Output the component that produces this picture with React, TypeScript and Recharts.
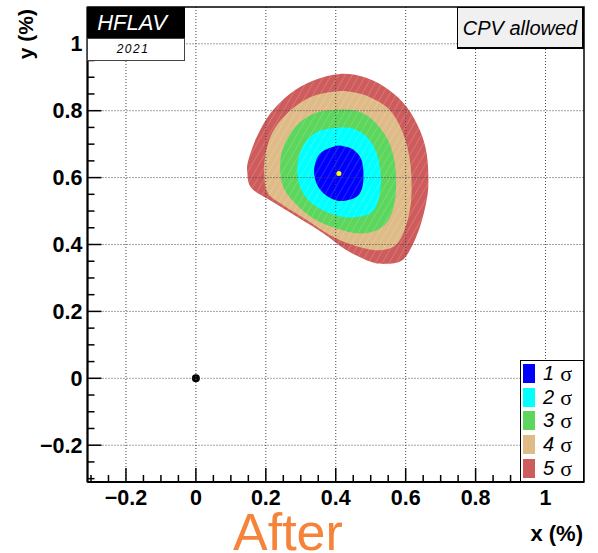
import React from 'react';
import { ScatterChart, Scatter, XAxis, YAxis, ReferenceLine, ReferenceArea } from 'recharts';

// Confidence contours in the (x, y) plane, values in %
const sigma5: [number, number][] = [
  [0.412, 0.91], [0.336, 0.89], [0.269, 0.851], [0.212, 0.791], [0.174, 0.721], [0.15, 0.652],
  [0.147, 0.615], [0.158, 0.57], [0.212, 0.532], [0.289, 0.483], [0.365, 0.433], [0.431, 0.383],
  [0.498, 0.349], [0.536, 0.342], [0.584, 0.349], [0.612, 0.383], [0.641, 0.453], [0.66, 0.532],
  [0.665, 0.592], [0.66, 0.672], [0.641, 0.741], [0.603, 0.811], [0.555, 0.86], [0.489, 0.898],
];
const sigma4: [number, number][] = [
  [0.403, 0.858], [0.327, 0.84], [0.26, 0.791], [0.217, 0.731], [0.198, 0.662], [0.196, 0.602],
  [0.205, 0.555], [0.241, 0.523], [0.317, 0.473], [0.384, 0.428], [0.45, 0.398], [0.517, 0.383],
  [0.565, 0.393], [0.593, 0.433], [0.612, 0.503], [0.617, 0.572], [0.612, 0.652], [0.593, 0.731],
  [0.555, 0.801], [0.498, 0.84], [0.45, 0.855],
];
const sigma3: [number, number][] = [
  [0.403, 0.803], [0.336, 0.791], [0.284, 0.751], [0.25, 0.691], [0.241, 0.632], [0.25, 0.572],
  [0.284, 0.523], [0.336, 0.478], [0.403, 0.448], [0.469, 0.433], [0.527, 0.448], [0.56, 0.493],
  [0.572, 0.562], [0.569, 0.642], [0.55, 0.711], [0.507, 0.771], [0.46, 0.799],
];
const sigma2: [number, number][] = [
  [0.403, 0.749], [0.346, 0.736], [0.307, 0.696], [0.29, 0.632], [0.298, 0.572], [0.331, 0.523],
  [0.384, 0.493], [0.441, 0.481], [0.498, 0.493], [0.522, 0.532], [0.529, 0.602], [0.517, 0.672],
  [0.489, 0.721], [0.45, 0.746],
];
const sigma1: [number, number][] = [
  [0.398, 0.694], [0.355, 0.672], [0.338, 0.622], [0.35, 0.572], [0.384, 0.539], [0.422, 0.53],
  [0.465, 0.547], [0.479, 0.592], [0.474, 0.652], [0.45, 0.684], [0.422, 0.694],
];
const bestFit: [number, number][] = [[0.409, 0.612]];
const noMixing: [number, number][] = [[0, 0]];

const legendLabels = ['1', '2', '3', '4', '5'];
const sigmaColors = ['#0000ff', '#00ffff', '#5cd65c', '#dfbb88', '#cf5c5c'];

const axisDomain: [number, number] = [-0.31, 1.11];
const tickValues = [
  -0.3, -0.25, -0.2, -0.15, -0.1, -0.05, 0, 0.05, 0.1, 0.15, 0.2, 0.25, 0.3, 0.35, 0.4, 0.45,
  0.5, 0.55, 0.6, 0.65, 0.7, 0.75, 0.8, 0.85, 0.9, 0.95, 1, 1.05, 1.1,
];
const majorTicks = [-0.2, 0, 0.2, 0.4, 0.6, 0.8, 1];
const majorLabels = ['\u22120.2', '0', '0.2', '0.4', '0.6', '0.8', '1'];

const FONT = '"Liberation Sans", Arial, Helvetica, sans-serif';
const LABEL_SIZE = 21.5;

const toPoints = (arr: [number, number][]) => arr.map(([x, y]) => ({ x, y }));

const majorIndex = (v: number) => majorTicks.findIndex((m) => Math.abs(m - v) < 1e-6);

const XTick = (props: any) => {
  const { x, y, payload } = props;
  const i = majorIndex(payload.value);
  return (
    <g>
      <line x1={x} x2={x} y1={y} y2={y - (i >= 0 ? 14 : 7)} stroke="#000" strokeWidth={1.5} />
      {i >= 0 && (
        <text x={x} y={y + 23} textAnchor="middle" fontFamily={FONT} fontWeight="bold" fontSize={LABEL_SIZE} fill="#000">
          {majorLabels[i]}
        </text>
      )}
    </g>
  );
};

const YTick = (props: any) => {
  const { x, y, payload } = props;
  const i = majorIndex(payload.value);
  return (
    <g>
      <line x1={x} x2={x + (i >= 0 ? 14 : 7)} y1={y} y2={y} stroke="#000" strokeWidth={1.5} />
      {i >= 0 && (
        <text x={x - 5} y={y + 7.5} textAnchor="end" fontFamily={FONT} fontWeight="bold" fontSize={LABEL_SIZE} fill="#000">
          {majorLabels[i]}
        </text>
      )}
    </g>
  );
};

// closed Catmull-Rom curve through the projected contour points
const smoothPath = (pts: { x: number; y: number }[]) => {
  const n = pts.length;
  if (!n) return '';
  let d = `M${pts[0].x},${pts[0].y}`;
  for (let i = 0; i < n; i++) {
    const p0 = pts[(i - 1 + n) % n];
    const p1 = pts[i];
    const p2 = pts[(i + 1) % n];
    const p3 = pts[(i + 2) % n];
    const c1x = p1.x + (p2.x - p0.x) / 6;
    const c1y = p1.y + (p2.y - p0.y) / 6;
    const c2x = p2.x - (p3.x - p1.x) / 6;
    const c2y = p2.y - (p3.y - p1.y) / 6;
    d += `C${c1x},${c1y} ${c2x},${c2y} ${p2.x},${p2.y}`;
  }
  return d + 'Z';
};

const filledRegion = (fill: string) => (props: any) => (
  <path d={smoothPath(props.points || [])} fill={fill} stroke="none" />
);

// faint white hatching laid over the whole contour stack
const hatchRegion = (props: any) => (
  <g>
    <defs>
      <pattern id="hatch" width="6" height="6" patternUnits="userSpaceOnUse" patternTransform="rotate(30)">
        <line x1="0" y1="0" x2="0" y2="6" stroke="#ffffff" strokeWidth={1} strokeOpacity={0.3} />
      </pattern>
    </defs>
    <path d={smoothPath(props.points || [])} fill="url(#hatch)" stroke="none" />
  </g>
);

const noSymbol = () => <g />;

const dot = (r: number, fill: string) => (props: any) => <circle cx={props.cx} cy={props.cy} r={r} fill={fill} />;

const contourSets = [sigma5, sigma4, sigma3, sigma2, sigma1];

export default function App() {
  return (
    <div style={{ position: 'absolute', left: 0, top: 0, width: 598, height: 553, background: '#fff', fontFamily: FONT }}>
      <ScatterChart width={598} height={553} margin={{ top: 7, right: 14, bottom: 41, left: 47.5 }}>
        <XAxis
          type="number"
          dataKey="x"
          domain={axisDomain}
          allowDataOverflow
          ticks={tickValues}
          interval={0}
          tickSize={0}
          tickMargin={0}
          tickLine={false}
          tick={<XTick />}
          axisLine={{ stroke: '#000', strokeWidth: 2 }}
          height={30}
        />
        <YAxis
          type="number"
          dataKey="y"
          domain={axisDomain}
          allowDataOverflow
          ticks={tickValues}
          interval={0}
          tickSize={0}
          tickMargin={0}
          tickLine={false}
          tick={<YTick />}
          axisLine={{ stroke: '#000', strokeWidth: 2 }}
          width={40}
        />
        {contourSets.map((set, i) => (
          <Scatter
            key={i}
            data={toPoints(set)}
            fill={sigmaColors[4 - i]}
            line={filledRegion(sigmaColors[4 - i])}
            shape={noSymbol}
            isAnimationActive={false}
          />
        ))}
        <Scatter data={toPoints(sigma5)} fill="#fff" line={hatchRegion} shape={noSymbol} isAnimationActive={false} />
        <Scatter data={toPoints(bestFit)} fill="#ffff00" shape={dot(2.5, '#ffff00')} isAnimationActive={false} />
        <Scatter data={toPoints(noMixing)} fill="#000" shape={dot(4, '#000')} isAnimationActive={false} />
        {majorTicks.map((v) => (
          <ReferenceLine key={'gx' + v} x={v} stroke="#444" strokeDasharray="1 2" zIndex={700} />
        ))}
        {majorTicks.map((v) => (
          <ReferenceLine key={'gy' + v} y={v} stroke="#444" strokeDasharray="1 2" zIndex={700} />
        ))}
        <ReferenceArea
          x1={axisDomain[0]}
          x2={axisDomain[1]}
          y1={axisDomain[0]}
          y2={axisDomain[1]}
          fill="none"
          fillOpacity={0}
          stroke="#000"
          strokeWidth={1.5}
          zIndex={800}
        />
      </ScatterChart>

      <svg width={598} height={553} style={{ position: 'absolute', left: 0, top: 0, pointerEvents: 'none' }}>
        <text x={583} y={541} textAnchor="end" fontFamily={FONT} fontWeight="bold" fontSize={22} fill="#000">
          x (%)
        </text>
        <text
          transform="translate(33, 9) rotate(-90)"
          textAnchor="end"
          fontFamily={FONT}
          fontWeight="bold"
          fontSize={21}
          fill="#000"
        >
          y (%)
        </text>
        <text x={233} y={550} fontFamily={FONT} fontSize={52} fill="#f5843a">
          After
        </text>
      </svg>

      <div style={{ position: 'absolute', left: 87, top: 7, width: 98, height: 31, background: '#000', color: '#fff', fontStyle: 'italic', fontSize: 22, lineHeight: '31px', textAlign: 'center', boxSizing: 'border-box', paddingRight: 8 }}>
        HFLAV
      </div>
      <div style={{ position: 'absolute', left: 87, top: 38, width: 98, height: 23, background: '#fff', border: '1px solid #444', boxSizing: 'border-box', fontStyle: 'italic', fontSize: 12, lineHeight: '21px', textAlign: 'center', letterSpacing: 1.5, paddingRight: 6 }}>
        2021
      </div>
      <div style={{ position: 'absolute', left: 457, top: 7, width: 127, height: 42, background: '#f0f0f0', border: '1px solid #000', borderRightWidth: 2, borderBottomWidth: 2, boxSizing: 'border-box', fontStyle: 'italic', fontSize: 20, lineHeight: '40px', textAlign: 'center' }}>
        CPV allowed
      </div>
      <div style={{ position: 'absolute', left: 520, top: 360, width: 64, height: 122, background: '#fff', border: '1px solid #000', boxSizing: 'border-box' }}>
        {legendLabels.map((lab, i) => (
          <div key={lab} style={{ position: 'absolute', left: 2, top: 3 + i * 23.7, height: 19, display: 'flex', alignItems: 'center' }}>
            <div style={{ width: 12, height: 19, background: sigmaColors[i] }} />
            <span style={{ marginLeft: 8, fontStyle: 'italic', fontSize: 20, lineHeight: '19px' }}>{lab}</span>
            <span style={{ marginLeft: 6, fontFamily: '"Liberation Serif", "DejaVu Serif", serif', fontSize: 22, lineHeight: '19px' }}>σ</span>
          </div>
        ))}
      </div>
    </div>
  );
}
